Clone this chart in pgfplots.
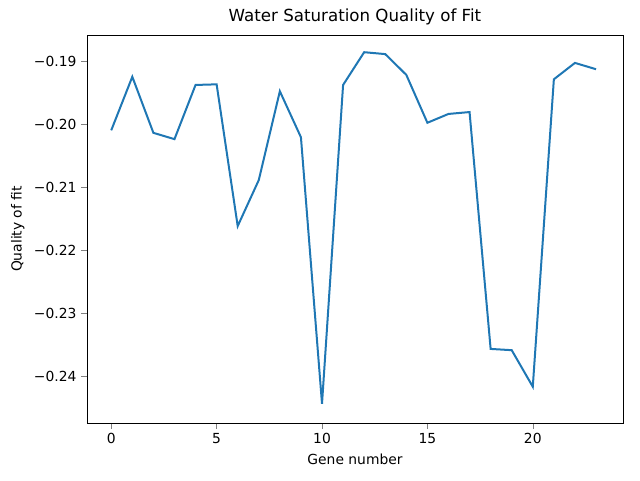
\documentclass[border=0pt]{standalone}
\usepackage{pgfplots}
\pgfplotsset{compat=1.18}
\usepackage{fontspec}
\setmainfont{DejaVu Sans}
\begin{document}
\fontsize{10.4pt}{12pt}\selectfont
\begin{tikzpicture}
\path[use as bounding box] (-65.25pt,-42.75pt) rectangle ++(480pt,360pt);
\begin{axis}[at={(0,0)},anchor=south west,
scale only axis, width=402pt, height=291pt,
xmin=-1.15, xmax=24.28, ymin=-0.24746, ymax=-0.18587,
xtick={0,5,10,15,20}, ytick={-0.24,-0.23,-0.22,-0.21,-0.20,-0.19},
yticklabels={−0.24,−0.23,−0.22,−0.21,−0.20,−0.19},
xticklabel={\pgfmathprintnumber{\tick}},
/pgf/number format/assume math mode=true,
scaled y ticks=false,
tick align=outside, tick pos=left,
title style={yshift=-2pt},
title={\fontsize{12.5pt}{14pt}\selectfont Water Saturation Quality of Fit},
xlabel={Gene number}, ylabel={Quality of fit},
]
\addplot[color={rgb,255:red,31;green,119;blue,180}, line width=1.5pt, mark=none] coordinates {
(0,-0.2010)(1,-0.1925)(2,-0.2014)(3,-0.2024)(4,-0.1938)(5,-0.1937)(6,-0.2162)(7,-0.2089)(8,-0.1948)(9,-0.2021)(10,-0.2444)(11,-0.1938)(12,-0.1886)(13,-0.1889)(14,-0.1922)(15,-0.1998)(16,-0.1984)(17,-0.1981)(18,-0.2357)(19,-0.2359)(20,-0.2417)(21,-0.1929)(22,-0.1903)(23,-0.1913)};
\end{axis}
\end{tikzpicture}
\end{document}
